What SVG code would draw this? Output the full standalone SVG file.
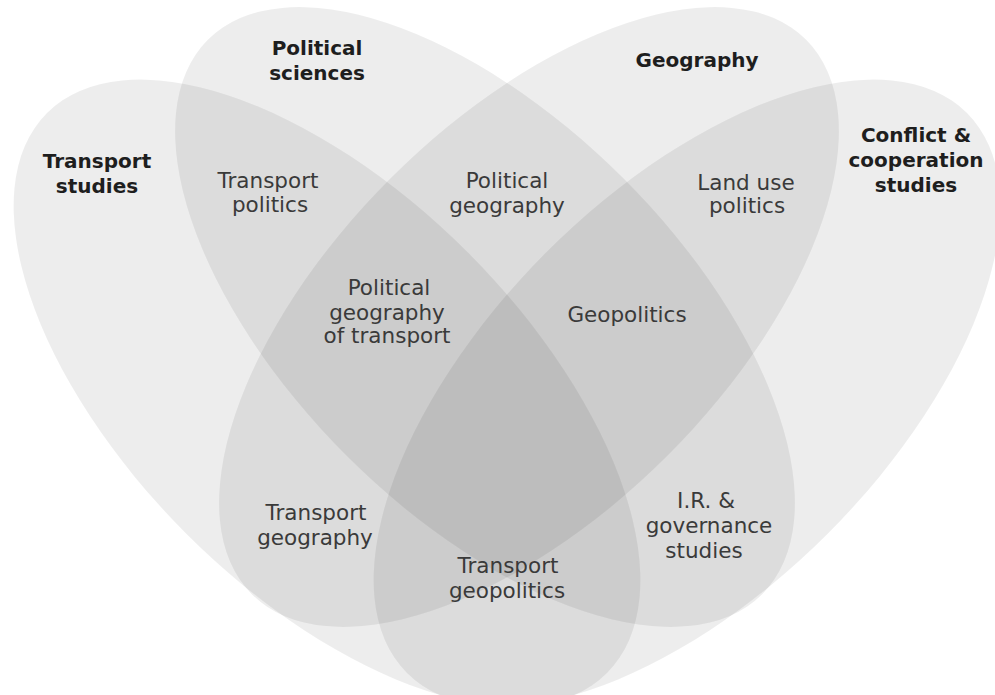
<svg xmlns="http://www.w3.org/2000/svg" width="995" height="695" viewBox="0 0 995 695">
<style>
.set{fill:#000;fill-opacity:0.072;stroke:none}
.lb{font-family:"DejaVu Sans","Liberation Sans",sans-serif;font-size:20px;font-weight:bold;fill:#1e1e1e;text-anchor:middle}
.rg{font-family:"DejaVu Sans","Liberation Sans",sans-serif;font-size:21.5px;fill:#3a3a3a;text-anchor:middle}
</style>
<rect width="995" height="695" fill="#fff"/>
<g id="set-transport-studies">
<ellipse class="set" cx="327" cy="393" rx="396" ry="199" transform="rotate(45 327 393)"/>
<text class="lb" x="97" y="168">Transport</text>
<text class="lb" x="97" y="193">studies</text>
</g>
<g id="set-political-sciences">
<ellipse class="set" cx="485" cy="317" rx="392" ry="196" transform="rotate(45 485 317)"/>
<text class="lb" x="317" y="55">Political</text>
<text class="lb" x="317" y="80">sciences</text>
</g>
<g id="set-geography">
<ellipse class="set" cx="529" cy="317" rx="392" ry="196" transform="rotate(-45 529 317)"/>
<text class="lb" x="697" y="67">Geography</text>
</g>
<g id="set-conflict-cooperation">
<ellipse class="set" cx="687" cy="393" rx="396" ry="199" transform="rotate(-45 687 393)"/>
<text class="lb" x="916" y="142">Conflict &amp;</text>
<text class="lb" x="916" y="167">cooperation</text>
<text class="lb" x="916" y="192">studies</text>
</g>
<g id="region-transport-politics">
<text class="rg" x="268" y="188">Transport</text>
<text class="rg" x="270" y="212">politics</text>
</g>
<g id="region-political-geography">
<text class="rg" x="507" y="188">Political</text>
<text class="rg" x="507" y="213">geography</text>
</g>
<g id="region-land-use-politics">
<text class="rg" x="746" y="190">Land use</text>
<text class="rg" x="747" y="213">politics</text>
</g>
<g id="region-political-geography-of-transport">
<text class="rg" x="389" y="295">Political</text>
<text class="rg" x="387" y="320">geography</text>
<text class="rg" x="387" y="343">of transport</text>
</g>
<g id="region-geopolitics">
<text class="rg" x="627" y="322">Geopolitics</text>
</g>
<g id="region-transport-geography">
<text class="rg" x="316" y="520">Transport</text>
<text class="rg" x="315" y="545">geography</text>
</g>
<g id="region-transport-geopolitics">
<text class="rg" x="508" y="573">Transport</text>
<text class="rg" x="507" y="598">geopolitics</text>
</g>
<g id="region-ir-governance">
<text class="rg" x="706" y="508">I.R. &amp;</text>
<text class="rg" x="709" y="533">governance</text>
<text class="rg" x="704" y="558">studies</text>
</g>
</svg>
